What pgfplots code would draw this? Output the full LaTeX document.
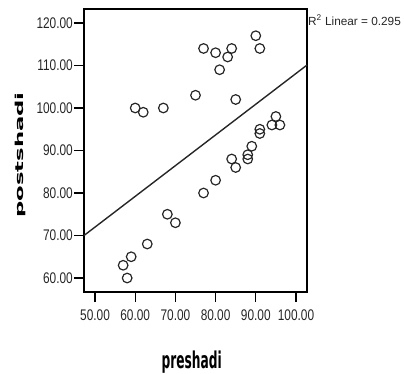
\documentclass[border=0pt]{standalone}
\usepackage{pgfplots}
\pgfplotsset{compat=1.18}
\usepackage{fontspec}
\setmainfont{Liberation Sans}
\newfontfamily\tickfont[FakeStretch=0.77]{Liberation Sans}
\newfontfamily\labfont{DejaVu Sans}
\begin{document}
\begin{tikzpicture}[x=1bp,y=1bp]
\path[use as bounding box] (0,0) rectangle (404,374);
\begin{axis}[
  at={(84bp,82bp)}, anchor=south west,
  scale only axis, width=223bp, height=283bp,
  xmin=47.26, xmax=102.74, ymin=56.71, ymax=123.29,
  axis line style={black, line width=1.4bp},
  xtick={50,60,70,80,90,100},
  xticklabels={50.00,60.00,70.00,80.00,90.00,100.00},
  ytick={60,70,80,90,100,110,120},
  yticklabels={60.00,70.00,80.00,90.00,100.00,110.00,120.00},
  tick align=outside, xtick pos=lower, ytick pos=left,
  major tick length=10bp,
  tick style={black, line width=1.2bp},
  ticklabel style={font=\tickfont\fontsize{15.4bp}{16bp}\selectfont, text=black!85, inner sep=1bp},
  xticklabel style={yshift=-7bp},
  xlabel={\scalebox{1}[1.9]{preshadi}},
  ylabel={\scalebox{2.07}[1]{postshadi}},
  every axis x label/.style={at={(axis description cs:0.483,-0.247)}, anchor=center, font=\labfont\bfseries\fontsize{12.2bp}{13bp}\selectfont},
  every axis y label/.style={at={(axis description cs:-0.285,0.484)}, anchor=center, rotate=90, font=\labfont\bfseries\fontsize{11bp}{12bp}\selectfont},
  clip=false,
]
\addplot[only marks, mark=o, mark size=4.8bp, mark options={line width=1.2bp, draw=black!85}] coordinates {
(60,100) (62,99) (67,100) (75,103) (77,114) (80,113) (81,109) (83,112) (84,114) (85,102)
(90,117) (91,114) (91,95) (91,94) (89,91) (94,96) (95,98) (96,96)
(84,88) (85,86) (88,89) (88,88) (80,83) (77,80) (68,75) (70,73) (63,68) (57,63) (59,65) (58,60)
};
\addplot[no marks, black!85, line width=1.4bp] coordinates {(47.26,70) (102.74,110.1)};
\node[anchor=base west, inner sep=0pt, font=\fontsize{11.8bp}{12bp}\selectfont, text=black!85] at (axis description cs:1,0.943) {\hspace{1bp}R\textsuperscript{2} Linear = 0.295};
\end{axis}
\end{tikzpicture}
\end{document}
